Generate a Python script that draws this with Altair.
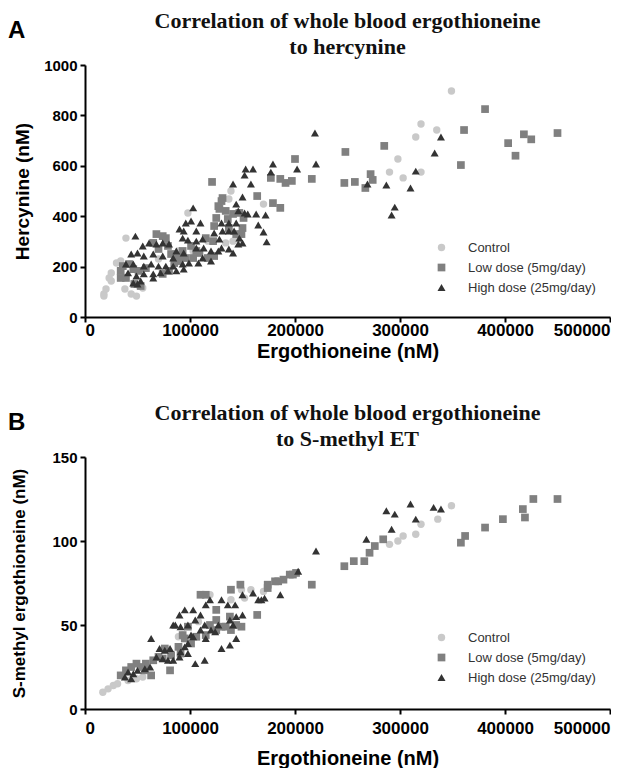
import altair as alt
import pandas as pd

groups = ["Control", "Low dose (5mg/day)", "High dose (25mg/day)"]

# ---------- Panel A: Ergothioneine (nM) vs Hercynine (nM) ----------
a_ctrl_x = [18000, 20000, 25000, 25000, 34000, 39000, 38000, 44000, 52000, 98000, 139000, 170000,
            349000, 320000, 315000, 335000, 298000, 290000, 303000, 320000,
            18000, 23000, 30000, 49000, 55000, 137000, 103000, 141000, 117000, 134000, 146000,
            70000, 89000]
a_ctrl_y = [91, 111, 143, 175, 222, 313, 111, 91, 123, 413, 500, 448,
            897, 766, 714, 742, 627, 575, 552, 575,
            83, 155, 214, 83, 115, 468, 262, 301, 301, 294, 309,
            230, 262]

a_low_x = [381000, 361000, 358000, 248000, 285000, 272000, 274000, 267000, 257000, 247000, 216000,
           200000, 197000, 191000, 186000, 177000, 179000, 186000, 164000,
           403000, 410000, 418000, 425000, 450000,
           121000, 130000, 128000, 125000, 123000, 134000, 136000, 141000, 147000, 150000, 149000,
           68000, 74000, 77000, 65000, 70000, 79000, 93000, 96000, 103000, 109000, 117000, 123000,
           122000, 115000, 82000, 89000, 36000, 34000, 34000, 42000, 46000, 51000, 58000, 74000,
           80000, 85000, 90000, 47000, 53000, 39000, 101000, 106000, 131000, 127000, 137000,
           144000, 151000]
a_low_y = [825, 742, 603, 655, 679, 567, 544, 512, 536, 532, 548,
           627, 540, 532, 548, 552, 452, 433, 480,
           690, 640, 725, 705, 730,
           536, 460, 429, 393, 361, 421, 389, 409, 413, 353, 329,
           329, 321, 313, 294, 270, 282, 262, 234, 234, 254, 234, 242,
           301, 313, 250, 234, 202, 183, 155, 210, 190, 183, 194, 171,
           183, 214, 222, 131, 123, 155, 282, 262, 472, 440, 353,
           329, 393]

a_high_x = [219000, 220000, 202000, 339000, 333000, 315000, 310000, 287000, 269000, 295000, 292000,
            179000, 177000, 160000, 153000, 152000, 158000, 141000, 150000, 172000, 170000, 165000,
            173000, 163000, 155000,
            48000, 103000, 144000, 146000, 152000, 96000, 101000, 110000, 90000, 94000, 106000,
            130000, 137000, 131000, 137000, 123000, 128000, 144000, 142000, 147000, 106000, 112000,
            93000, 98000, 87000, 94000, 106000, 113000, 120000, 127000, 130000, 137000, 141000,
            146000, 150000, 55000, 61000, 68000, 74000, 80000, 44000, 50000, 56000, 65000, 74000,
            84000, 39000, 46000, 56000, 63000, 70000, 77000, 84000, 93000, 99000, 108000, 112000,
            120000, 41000, 49000, 56000, 65000, 72000, 79000, 87000, 94000, 46000, 53000, 65000,
            50000]
a_high_y = [730, 607, 587, 714, 651, 579, 512, 524, 528, 436, 405,
            607, 575, 587, 587, 563, 528, 528, 476, 405, 337, 365,
            298, 409, 409,
            321, 433, 448, 421, 413, 373, 381, 373, 349, 341, 341,
            373, 373, 341, 341, 333, 309, 373, 341, 313, 301, 309,
            313, 305, 262, 254, 274, 274, 262, 262, 274, 270, 254,
            290, 294, 282, 294, 290, 294, 290, 250, 254, 242, 250, 242,
            234, 210, 210, 202, 210, 202, 202, 202, 210, 214, 214, 234,
            222, 175, 163, 171, 171, 175, 183, 183, 190, 135, 143, 155,
            131]

# ---------- Panel B: Ergothioneine (nM) vs S-methyl ergothioneine (nM) ----------
b_ctrl_x = [17000, 22000, 27000, 31000, 41000, 49000, 55000, 119000, 149000, 139000, 89000, 93000,
            108000, 58000, 152000, 158000, 170000,
            349000, 336000, 320000, 315000, 303000, 298000, 290000]
b_ctrl_y = [10, 12, 14, 15, 17, 18, 19, 68, 71, 65, 43, 44,
            52, 25, 66, 71, 70,
            121, 113, 110, 104, 103, 100, 98]

b_low_x = [216000, 247000, 256000, 266000, 271000, 276000, 284000, 358000, 362000, 381000,
           198000, 189000, 184000, 164000,
           398000, 417000, 419000, 427000, 450000,
           195000, 181000, 174000, 138000, 144000, 149000, 125000, 130000, 125000, 119000, 115000,
           106000, 101000, 95000, 91000, 89000, 82000, 76000, 74000, 70000, 65000, 58000, 53000,
           49000, 44000, 39000, 34000, 63000, 57000, 81000, 110000, 115000, 125000, 174000, 201000,
           148000, 139000, 93000, 98000, 134000, 139000]
b_low_y = [74, 85, 88, 88, 93, 97, 101, 99, 103, 108,
           80, 77, 76, 56,
           113, 119, 114, 125, 125,
           80, 76, 74, 55, 50, 49, 53, 49, 47, 50, 44,
           43, 39, 42, 33, 37, 32, 36, 30, 31, 29, 27, 25,
           27, 25, 23, 20, 20, 23, 23, 68, 68, 59, 72, 81,
           74, 71, 44, 49, 49, 47]

b_high_x = [220000, 203000, 186000, 268000, 292000, 287000, 295000, 310000, 315000, 332000, 339000,
            63000, 84000, 90000, 95000, 103000, 110000, 115000, 119000, 130000, 136000, 143000,
            150000, 160000, 165000, 168000, 144000, 150000, 91000, 98000, 101000, 110000, 114000,
            120000, 124000, 127000, 138000, 141000, 115000, 103000, 98000, 95000, 91000, 71000,
            76000, 81000, 68000, 74000, 79000, 105000, 114000, 130000, 138000, 144000, 41000,
            46000, 50000, 57000, 62000, 38000, 44000, 84000, 90000, 98000, 171000, 105000, 86000]
b_high_y = [94, 82, 68, 101, 107, 118, 116, 122, 113, 120, 119,
            42, 50, 56, 59, 59, 56, 62, 65, 65, 62, 62,
            68, 69, 65, 65, 55, 56, 49, 50, 44, 47, 50,
            47, 46, 50, 53, 50, 42, 43, 39, 37, 34, 36,
            35, 36, 31, 30, 29, 27, 29, 36, 38, 42, 22,
            21, 23, 24, 25, 19, 18, 29, 31, 33, 66, 53, 50]

title_line1 = "Correlation of whole blood ergothioneine"
title_a2 = "to hercynine"
title_b2 = "to S-methyl ET"


def frame(cx, cy, lx, ly, hx, hy):
    rows = []
    for g, xs, ys in zip(groups, [cx, lx, hx], [cy, ly, hy]):
        for xv, yv in zip(xs, ys):
            rows.append({"x": xv, "y": yv, "group": g})
    df = pd.DataFrame(rows)
    df["order"] = df["group"].map({g: i for i, g in enumerate(groups)})
    return df


dfA = frame(a_ctrl_x, a_ctrl_y, a_low_x, a_low_y, a_high_x, a_high_y)
dfB = frame(b_ctrl_x, b_ctrl_y, b_low_x, b_low_y, b_high_x, b_high_y)

color_scale = alt.Scale(domain=groups, range=["#c9c9c9", "#808080", "#333333"])
shape_scale = alt.Scale(domain=groups, range=["circle", "square", "triangle-up"])
size_scale = alt.Scale(domain=groups, range=[55, 64, 95])

SANS = "Liberation Sans"
SERIF = "Liberation Serif"
W, H = 525, 252


def panel(df, letter, line2, ytitle, ymax, ystep, legend_y, ytitle_size, ytitle_pad,
          xlab_pad, xtitle_pad):
    legend = alt.Legend(title=None, orient="none", legendX=350, legendY=legend_y,
                        labelFont=SANS, labelFontSize=13, labelColor="#333333",
                        symbolSize=45, labelOffset=20, rowPadding=6)
    pts = alt.Chart(df).mark_point(filled=True, opacity=1, strokeWidth=0).encode(
        x=alt.X("x:Q", title="Ergothioneine (nM)",
                scale=alt.Scale(domain=[0, 500000], nice=False),
                axis=alt.Axis(values=[0, 100000, 200000, 300000, 400000, 500000],
                              format="d", labelFontSize=17, labelPadding=xlab_pad,
                              titlePadding=xtitle_pad, titleFontSize=20)),
        y=alt.Y("y:Q", title=ytitle,
                scale=alt.Scale(domain=[0, ymax], nice=False),
                axis=alt.Axis(values=list(range(0, ymax + 1, ystep)), format="d",
                              labelFontSize=15, labelPadding=3,
                              titlePadding=ytitle_pad, titleFontSize=ytitle_size)),
        color=alt.Color("group:N", scale=color_scale, legend=legend),
        shape=alt.Shape("group:N", scale=shape_scale, legend=legend),
        size=alt.Size("group:N", scale=size_scale, legend=None),
        order=alt.Order("order:Q"),
    )
    txt = pd.DataFrame({"t": [letter, title_line1, line2]})
    lab = alt.Chart(txt).transform_filter(alt.datum.t == letter).mark_text(
        font=SANS, fontSize=24, fontWeight="bold", align="left", baseline="alphabetic",
        color="black").encode(text="t:N", x=alt.value(-77), y=alt.value(-27))
    t1 = alt.Chart(txt).transform_filter(alt.datum.t == title_line1).mark_text(
        font=SERIF, fontSize=22, fontWeight="bold", align="center", baseline="alphabetic",
        color="#111111").encode(text="t:N", x=alt.value(W / 2), y=alt.value(-37))
    t2 = alt.Chart(txt).transform_filter(alt.datum.t == line2).mark_text(
        font=SERIF, fontSize=22, fontWeight="bold", align="center", baseline="alphabetic",
        color="#111111").encode(text="t:N", x=alt.value(W / 2), y=alt.value(-11))
    return alt.layer(pts, lab, t1, t2).properties(width=W, height=H)


A = panel(dfA, "A", title_a2, "Hercynine (nM)", 1000, 200, 176, 19, 11, 0, 3)
B = panel(dfB, "B", title_b2, "S-methyl ergothioneine (nM)", 150, 50, 174, 17, 23, 6, 12)

chart = alt.vconcat(A, B, spacing=41).resolve_legend(
    color="independent", shape="independent", size="independent"
).resolve_scale(
    color="independent", shape="independent", size="independent"
).properties(
    padding={"left": 0, "top": 2, "right": 0, "bottom": 0}
).configure_view(stroke=None).configure_axis(
    grid=False, domainColor="black", domainWidth=2, tickColor="black", tickWidth=2,
    tickSize=5, labelFont=SANS, labelFontWeight="bold", labelColor="black",
    titleFont=SANS, titleFontWeight="bold", titleColor="black"
)

chart.save("out.html", embed_options={"renderer": "svg", "actions": False})
